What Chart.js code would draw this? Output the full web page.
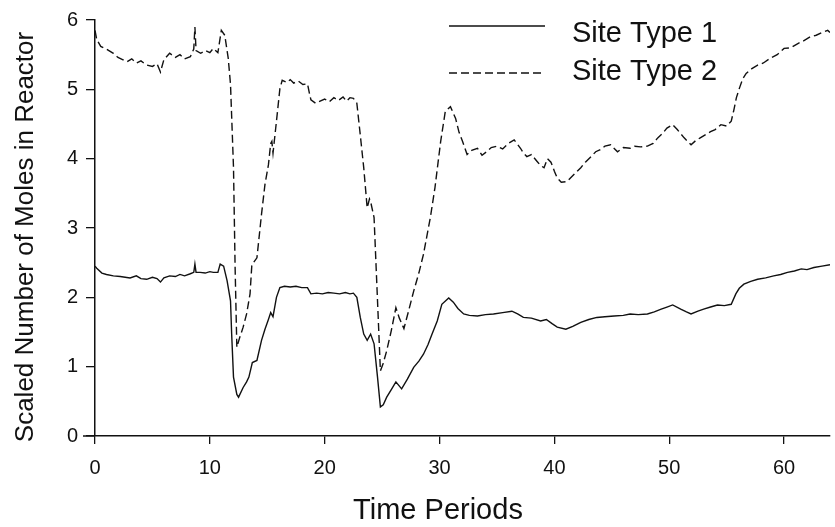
<!DOCTYPE html>
<html>
<head>
    <title>Site Types in Reactor</title>
    <script src="https://cdn.jsdelivr.net/npm/chart.js"></script>
    <style>
        html, body { margin: 0; padding: 0; background: #fff; }
        #wrap { width: 835px; height: 527px; }
    </style>
</head>
<body>
    <div id="wrap">
        <canvas id="molesChart" width="835" height="527"></canvas>
    </div>

    <script>
        // Site Type 1 (solid line)
        const time1 = [
            0, 0.15, 0.6, 1.0, 1.6, 2.2, 3.05, 3.6, 4.0, 4.5,
            5.0, 5.4, 5.7, 6.0, 6.5, 7.0, 7.4, 7.8, 8.3, 8.6,
            8.7, 8.8, 9.15, 9.6, 10.0, 10.3, 10.7, 10.9, 11.2, 11.5,
            11.8, 11.9, 12.06, 12.35, 12.5, 12.9, 13.2, 13.4, 13.7, 14.1,
            14.5, 14.8, 15.1, 15.3, 15.5, 15.8, 16.1, 16.5, 17.0, 17.5,
            18.0, 18.5, 18.8, 19.3, 19.8, 20.3, 20.8, 21.3, 21.8, 22.2,
            22.5, 22.8, 23.1, 23.4, 23.7, 24.0, 24.3, 24.6, 24.85, 25.1,
            25.4, 25.8, 26.2, 26.7, 27.2, 27.75, 28.2, 28.6, 29.0, 29.35,
            29.8, 30.2, 30.8, 31.2, 31.6, 32.1, 32.6, 33.3, 34.0, 34.7,
            35.5, 36.3, 36.8, 37.3, 38.0, 38.8, 39.3, 39.8, 40.25, 41.0,
            41.6, 42.3, 43.0, 43.7, 44.4, 45.2, 46.0, 46.6, 47.3, 48.1,
            48.7, 49.3, 49.8, 50.3, 51.0, 51.5, 51.9, 52.5, 53.0, 53.6,
            54.2, 54.8, 55.4, 55.8, 56.1, 56.5, 57.1, 57.7, 58.4, 59.1,
            59.7, 60.3, 60.9, 61.5, 62.0, 62.6, 63.3, 64.0
        ];
        const site1 = [
            2.45, 2.42, 2.35, 2.33, 2.31, 2.30, 2.28, 2.31, 2.27, 2.26,
            2.29, 2.27, 2.22, 2.28, 2.31, 2.30, 2.33, 2.31, 2.34, 2.36,
            2.48, 2.36, 2.36, 2.35, 2.37, 2.36, 2.36, 2.48, 2.45, 2.24,
            1.95, 1.47, 0.85, 0.60, 0.56, 0.70, 0.78, 0.85, 1.06, 1.09,
            1.38, 1.54, 1.68, 1.78, 1.72, 2.00, 2.14, 2.16, 2.15, 2.16,
            2.14, 2.14, 2.05, 2.06, 2.05, 2.07, 2.06, 2.05, 2.07, 2.05,
            2.06, 2.00, 1.71, 1.47, 1.38, 1.47, 1.33, 0.85, 0.42, 0.45,
            0.56, 0.67, 0.78, 0.68, 0.82, 0.99, 1.08, 1.18, 1.32, 1.47,
            1.66, 1.90, 1.99, 1.93, 1.84, 1.76, 1.74, 1.73, 1.75, 1.76,
            1.78, 1.80, 1.76, 1.71, 1.70, 1.66, 1.68, 1.62, 1.57, 1.54,
            1.58, 1.64, 1.68, 1.71, 1.72, 1.73, 1.74, 1.76, 1.75, 1.76,
            1.79, 1.83, 1.86, 1.89, 1.83, 1.79, 1.76, 1.80, 1.83, 1.86,
            1.89, 1.88, 1.90, 2.05, 2.13, 2.19, 2.23, 2.26, 2.28, 2.31,
            2.33, 2.36, 2.38, 2.41, 2.40, 2.43, 2.45, 2.47
        ];

        // Site Type 2 (dashed line)
        const time2 = [
            0, 0.15, 0.5, 1.0, 1.6, 2.0, 2.4, 2.8, 3.2, 3.6,
            4.0, 4.5, 5.0, 5.4, 5.7, 6.0, 6.5, 7.0, 7.4, 7.8,
            8.3, 8.6, 8.7, 8.8, 9.2, 9.6, 10.0, 10.3, 10.7, 11.0,
            11.3, 11.6, 11.8, 12.06, 12.2, 12.35, 12.6, 12.9, 13.2, 13.5,
            13.65, 13.7, 14.1, 14.5, 14.8, 15.1, 15.3, 15.4, 15.5, 15.8,
            16.1, 16.3, 16.7, 17.0, 17.3, 17.7, 18.1, 18.5, 18.7, 18.8,
            19.2, 19.6, 20.0, 20.4, 20.8, 21.2, 21.6, 21.9, 22.2, 22.5,
            22.8, 23.1, 23.4, 23.7, 23.9, 24.0, 24.3, 24.6, 24.85, 25.1,
            25.4, 25.8, 26.2, 26.5, 26.9, 27.3, 27.75, 28.2, 28.6, 29.2,
            29.6, 30.1, 30.5, 30.95, 31.4, 31.7, 32.0, 32.4, 32.8, 33.3,
            33.7, 34.1, 34.5, 35.0, 35.5, 36.0, 36.5, 37.05, 37.3, 37.6,
            38.0, 38.5, 38.8, 39.1, 39.4, 39.7, 40.0, 40.25, 40.6, 41.1,
            41.4, 41.7, 42.3, 42.7, 43.2, 43.6, 44.0, 44.4, 44.9, 45.5,
            46.0, 46.6, 47.0, 47.5, 48.1, 48.6, 49.0, 49.4, 49.8, 50.3,
            50.7, 51.3, 51.9, 52.3, 52.7, 53.2, 53.6, 54.0, 54.5, 55.0,
            55.4, 55.6, 55.85, 56.1, 56.4, 56.7, 57.2, 57.7, 58.2, 58.8,
            59.4, 60.0, 60.6, 61.2, 61.7, 62.3, 62.8, 63.3, 63.8, 64.0
        ];
        const site2 = [
            5.85, 5.72, 5.62, 5.58, 5.52, 5.46, 5.43, 5.40, 5.44, 5.38,
            5.41, 5.35, 5.33, 5.37, 5.25, 5.43, 5.52, 5.46, 5.50, 5.44,
            5.47, 5.58, 5.90, 5.56, 5.52, 5.56, 5.53, 5.59, 5.53, 5.85,
            5.78, 5.45, 5.07, 3.87, 2.43, 1.28, 1.42, 1.57, 1.76, 2.05,
            2.45, 2.48, 2.57, 3.20, 3.63, 3.91, 4.22, 4.25, 4.08, 4.54,
            5.01, 5.13, 5.10, 5.14, 5.09, 5.12, 5.07, 5.08, 4.92, 4.85,
            4.80, 4.83, 4.86, 4.82, 4.88, 4.84, 4.89, 4.83, 4.88, 4.87,
            4.80, 4.34, 3.87, 3.29, 3.42, 3.38, 3.15, 1.95, 0.94, 1.05,
            1.23, 1.52, 1.85, 1.70, 1.55, 1.80, 2.09, 2.35, 2.62, 3.15,
            3.58, 4.25, 4.68, 4.75, 4.58, 4.38, 4.25, 4.06, 4.12, 4.15,
            4.05, 4.10, 4.16, 4.18, 4.14, 4.22, 4.27, 4.15, 4.08, 4.03,
            4.06, 3.96, 3.90, 3.87, 4.00, 3.95, 3.82, 3.72, 3.66, 3.67,
            3.72, 3.77, 3.87, 3.95, 4.03, 4.10, 4.13, 4.18, 4.20, 4.10,
            4.16, 4.15, 4.18, 4.17, 4.18, 4.22, 4.30, 4.36, 4.44, 4.49,
            4.42, 4.30, 4.20, 4.26, 4.30, 4.35, 4.39, 4.42, 4.49, 4.47,
            4.54, 4.68, 4.88, 5.01, 5.15, 5.23, 5.30, 5.35, 5.38, 5.45,
            5.50, 5.59, 5.60, 5.66, 5.70, 5.76, 5.78, 5.82, 5.85, 5.82
        ];

        const seriesNames = ['Site Type 1', 'Site Type 2'];
        const xTicks = [0, 10, 20, 30, 40, 50, 60];
        const yTicks = [0, 1, 2, 3, 4, 5, 6];
        const xTitle = 'Time Periods';
        const yTitle = 'Scaled Number of Moles in Reactor';

        const FONT = '"Liberation Sans", Arial, Helvetica, sans-serif';
        const INK = '#111';

        function toPoints(xs, ys) {
            return ys.map((v, i) => ({ x: xs[i], y: v }));
        }

        // legend inside the plot (top right) plus the two axis titles,
        // which sit a little off-centre in the original figure
        const decorPlugin = {
            id: 'decor',
            afterDraw(chart) {
                const ctx = chart.ctx;
                const area = chart.chartArea;
                const rows = [
                    { y: 26, text: seriesNames[0], dash: [], ty: 42 },
                    { y: 73, text: seriesNames[1], dash: [8, 4], ty: 80 }
                ];
                ctx.save();
                ctx.strokeStyle = INK;
                ctx.fillStyle = INK;

                // x axis line runs a bit past the y axis on the left
                ctx.lineWidth = 1.5;
                ctx.beginPath();
                ctx.moveTo(83, area.bottom);
                ctx.lineTo(area.left, area.bottom);
                ctx.stroke();

                ctx.lineWidth = 1.3;
                ctx.font = '29px ' + FONT;
                ctx.textBaseline = 'alphabetic';
                rows.forEach(r => {
                    ctx.setLineDash(r.dash);
                    ctx.beginPath();
                    ctx.moveTo(449, r.y);
                    ctx.lineTo(545, r.y);
                    ctx.stroke();
                    ctx.setLineDash([]);
                    ctx.textAlign = 'left';
                    ctx.fillText(r.text, 572, r.ty);
                });

                // axis titles
                ctx.textAlign = 'center';
                ctx.fillText(xTitle, 438, 519);
                ctx.font = '26px ' + FONT;
                ctx.translate(33, 237);
                ctx.rotate(-Math.PI / 2);
                ctx.fillText(yTitle, 0, 0);
                ctx.restore();
            }
        };

        const ctx = document.getElementById('molesChart').getContext('2d');
        new Chart(ctx, {
            type: 'line',
            data: {
                datasets: [
                    {
                        label: seriesNames[0],
                        data: toPoints(time1, site1),
                        borderColor: INK,
                        borderWidth: 1.4,
                        pointRadius: 0,
                        tension: 0
                    },
                    {
                        label: seriesNames[1],
                        data: toPoints(time2, site2),
                        borderColor: INK,
                        borderWidth: 1.4,
                        borderDash: [8, 4],
                        pointRadius: 0,
                        tension: 0
                    }
                ]
            },
            options: {
                responsive: false,
                animation: false,
                layout: { padding: { top: 18, right: 5, left: 0, bottom: 0 } },
                plugins: {
                    legend: { display: false },
                    tooltip: { enabled: false }
                },
                scales: {
                    x: {
                        type: 'linear',
                        min: 0,
                        max: 64,
                        afterBuildTicks: s => { s.ticks = xTicks.map(v => ({ value: v })); },
                        afterFit: s => { s.height = 91; },
                        grid: { drawOnChartArea: false, tickLength: 8, color: INK, lineWidth: 1.3 },
                        border: { color: INK, width: 1.5 },
                        ticks: { color: INK, font: { family: FONT, size: 20 }, padding: 12, maxRotation: 0 }
                    },
                    y: {
                        min: 0,
                        max: 6,
                        afterBuildTicks: s => { s.ticks = yTicks.map(v => ({ value: v })); },
                        afterFit: s => { s.width = 95; },
                        grid: { drawOnChartArea: false, tickLength: 9, color: INK, lineWidth: 1.3 },
                        border: { color: INK, width: 1.5 },
                        ticks: { color: INK, font: { family: FONT, size: 20 }, padding: 8 }
                    }
                }
            },
            plugins: [decorPlugin]
        });
    </script>
</body>
</html>
